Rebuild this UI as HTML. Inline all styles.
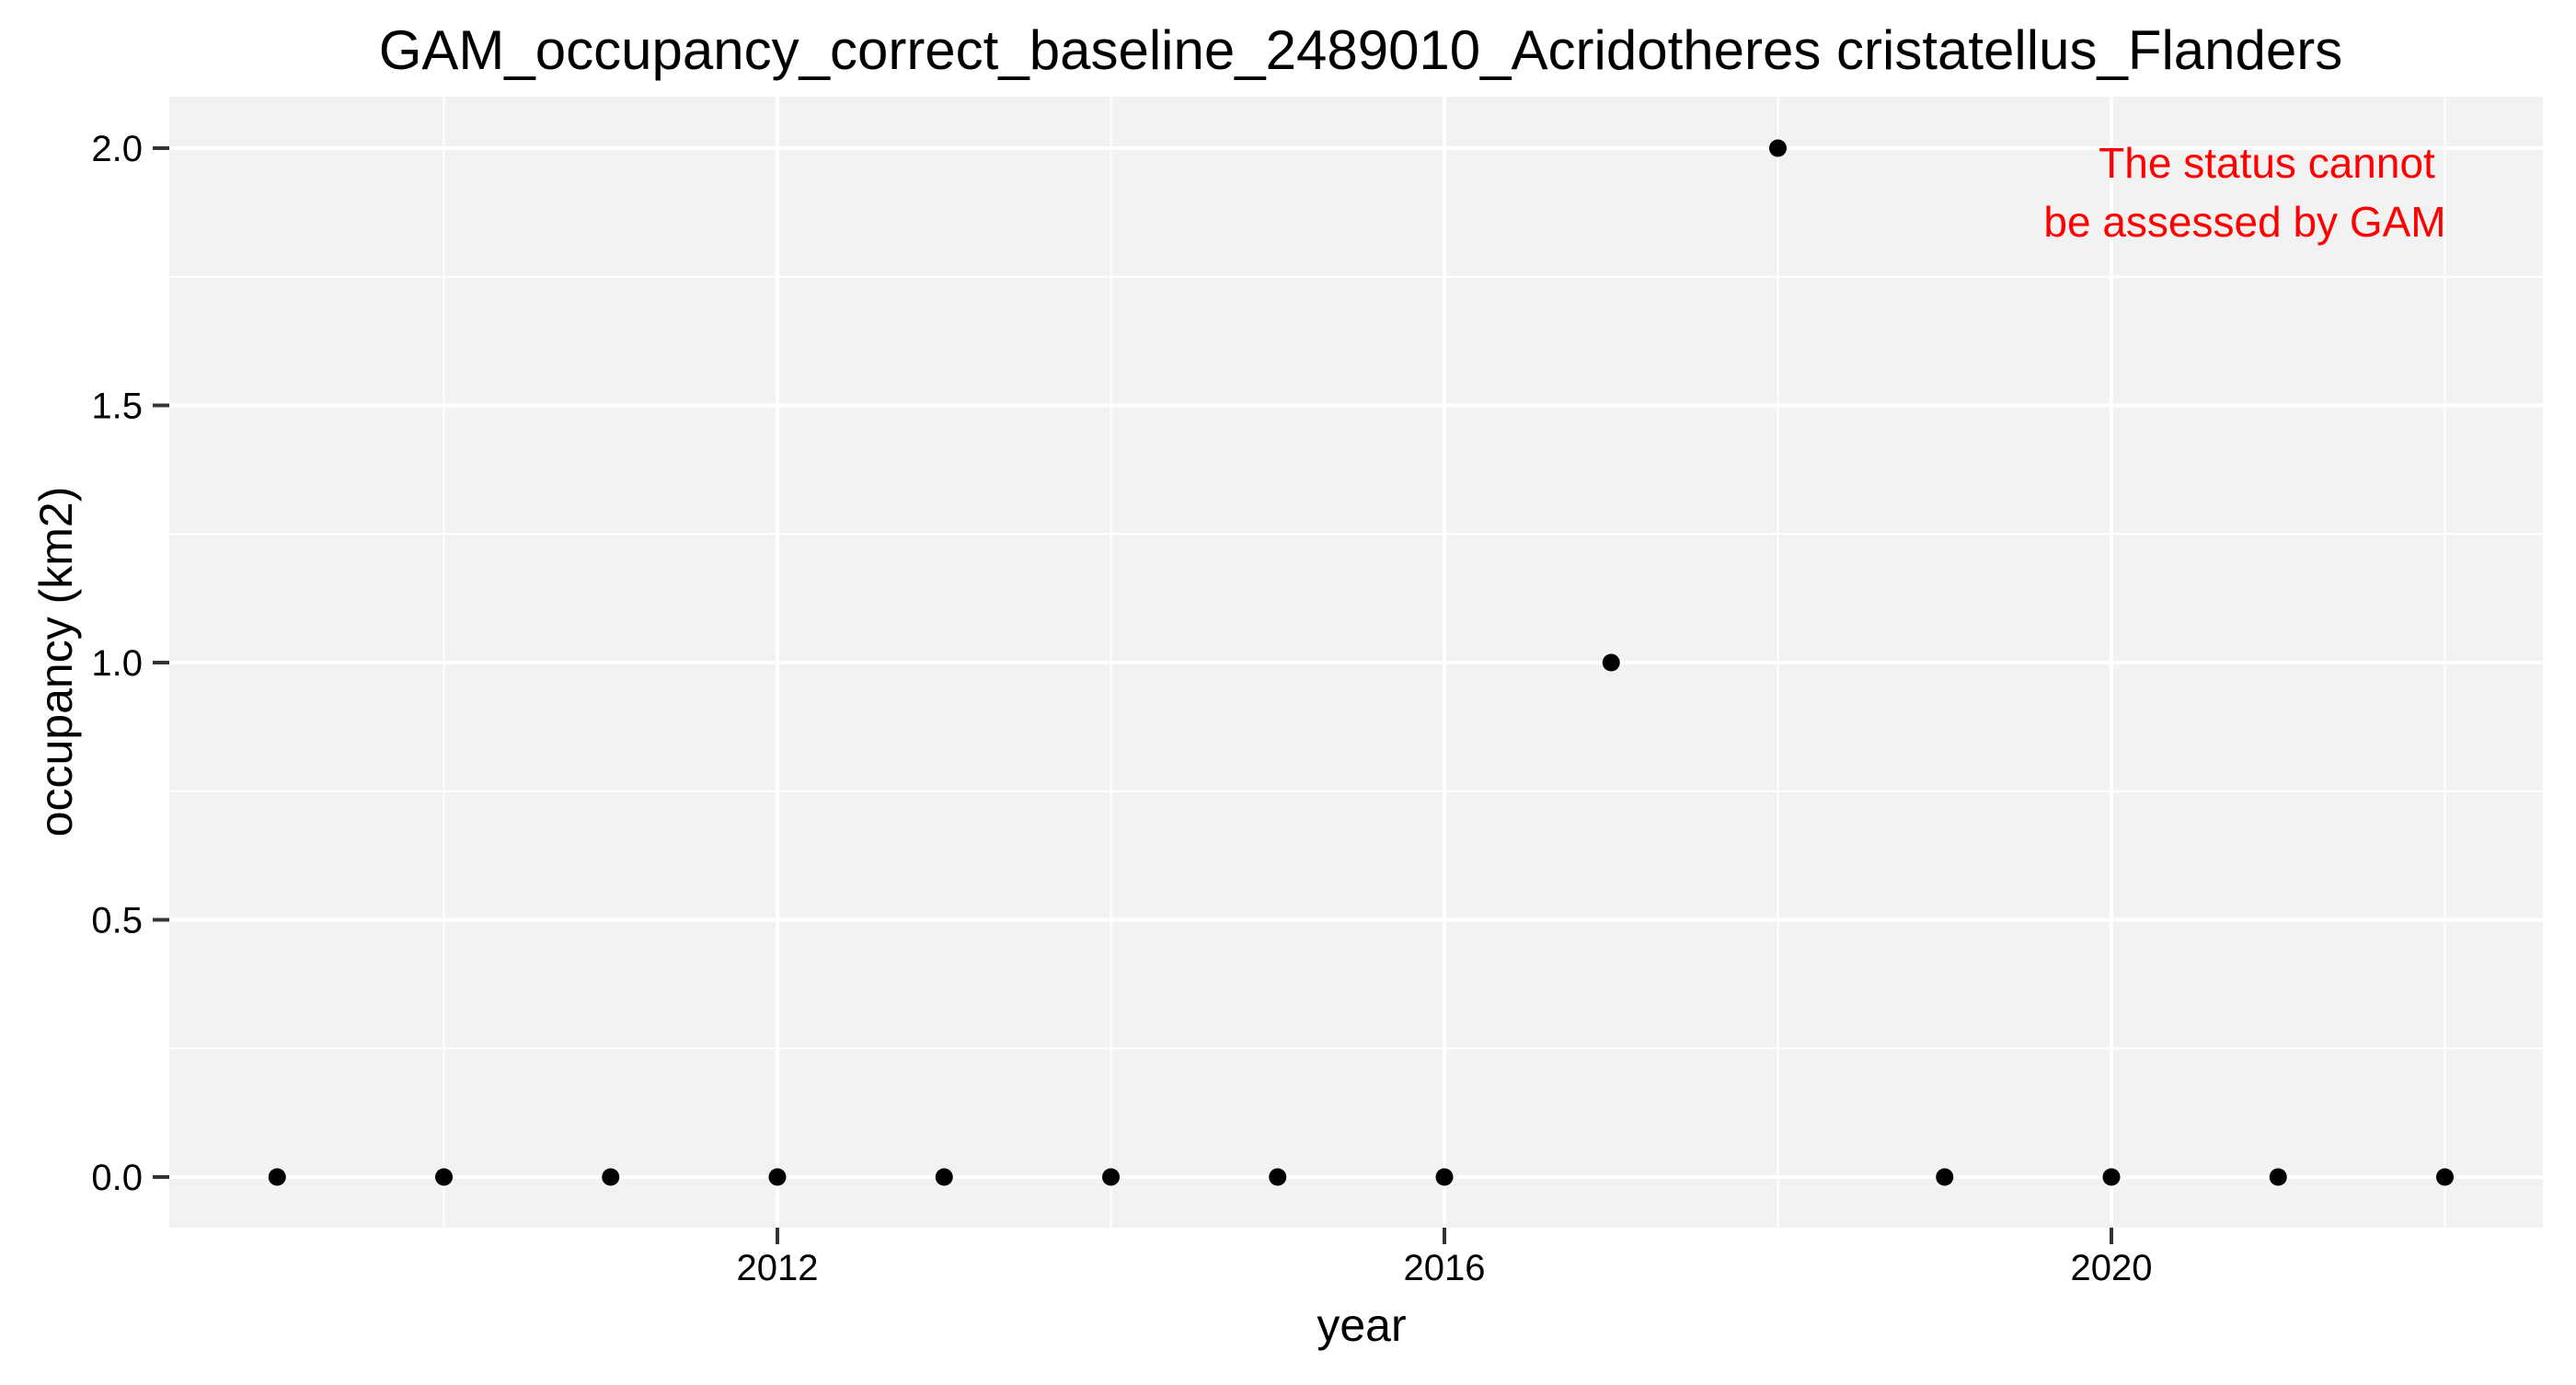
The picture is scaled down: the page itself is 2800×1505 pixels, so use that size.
<!DOCTYPE html>
<html><head><meta charset="utf-8"><style>
html,body{margin:0;padding:0;background:#fff;}
svg text{font-family:"Liberation Sans",Arial,sans-serif;}
</style></head><body>
<svg id="chart" width="2800" height="1500" viewBox="0 0 2800 1500" xmlns="http://www.w3.org/2000/svg">
<rect x="0" y="0" width="2800" height="1500" fill="#fff"/>
<text x="1479" y="75" font-size="60" text-anchor="middle" fill="#000">GAM_occupancy_correct_baseline_2489010_Acridotheres cristatellus_Flanders</text>
<rect x="184" y="105" width="2580" height="1229" fill="#f2f2f2"/>
<g id="grid"></g>
<g id="axes"></g>
<g id="points"></g>
<text x="1480" y="1457" font-size="50" text-anchor="middle" fill="#000">year</text>
<text x="0" y="0" font-size="50" text-anchor="middle" fill="#000" transform="translate(78,719) rotate(-90)">occupancy (km2)</text>
<text x="2464" y="193" font-size="46" text-anchor="middle" fill="#ff0000">The status cannot</text>
<text x="2440" y="257" font-size="46" text-anchor="middle" fill="#ff0000">be assessed by GAM</text>
</svg>
<script>
const years = [2009,2010,2011,2012,2013,2014,2015,2016,2017,2018,2019,2020,2021,2022];
const occupancy = [0,0,0,0,0,0,0,0,1,2,0,0,0,0];
const xTicks = [2012,2016,2020];
const xMinor = [2010,2014,2018,2022];
const yTicks = [0,0.5,1,1.5,2];
const yTickLabels = ["0.0","0.5","1.0","1.5","2.0"];
const yMinor = [0.25,0.75,1.25,1.75];

const NS="http://www.w3.org/2000/svg";
function xs(v){return 845+(v-2012)*181.25;}
function ys(v){return 1279-v*559;}
const PL=184,PR=2764,PT=105,PB=1334;
function mk(tag,attrs,parent){const e=document.createElementNS(NS,tag);for(const k in attrs)e.setAttribute(k,attrs[k]);parent.appendChild(e);return e;}
const grid=document.getElementById('grid'),axes=document.getElementById('axes'),pts=document.getElementById('points');
yMinor.forEach(v=>{const l=mk('line',{x1:PL,x2:PR,y1:ys(v),y2:ys(v),stroke:'#fff','stroke-width':2},grid);

});
xMinor.forEach(v=>{const l=mk('line',{x1:xs(v),x2:xs(v),y1:PT,y2:PB,stroke:'#fff','stroke-width':2},grid);

});
yTicks.forEach((v,i)=>{const l=mk('line',{x1:PL,x2:PR,y1:ys(v),y2:ys(v),stroke:'#fff','stroke-width':4},grid);


const t=mk('line',{x1:166,x2:PL,y1:ys(v),y2:ys(v),stroke:'#333','stroke-width':4},axes);


const tx=mk('text',{x:155,y:ys(v)+14,'font-size':40,'text-anchor':'end',fill:'#000'},axes);
tx.textContent=yTickLabels[i];

});
xTicks.forEach(v=>{const l=mk('line',{x1:xs(v),x2:xs(v),y1:PT,y2:PB,stroke:'#fff','stroke-width':4},grid);


const t=mk('line',{x1:xs(v),x2:xs(v),y1:PB,y2:PB+18,stroke:'#333','stroke-width':4},axes);


const tx=mk('text',{x:xs(v),y:1391,'font-size':40,'text-anchor':'middle',fill:'#000'},axes);
tx.textContent=String(v);

});
years.forEach((y,i)=>{const c=mk('circle',{cx:xs(y),cy:ys(occupancy[i]),r:9.5,fill:'#000'},pts);

});
</script>
</body></html>
